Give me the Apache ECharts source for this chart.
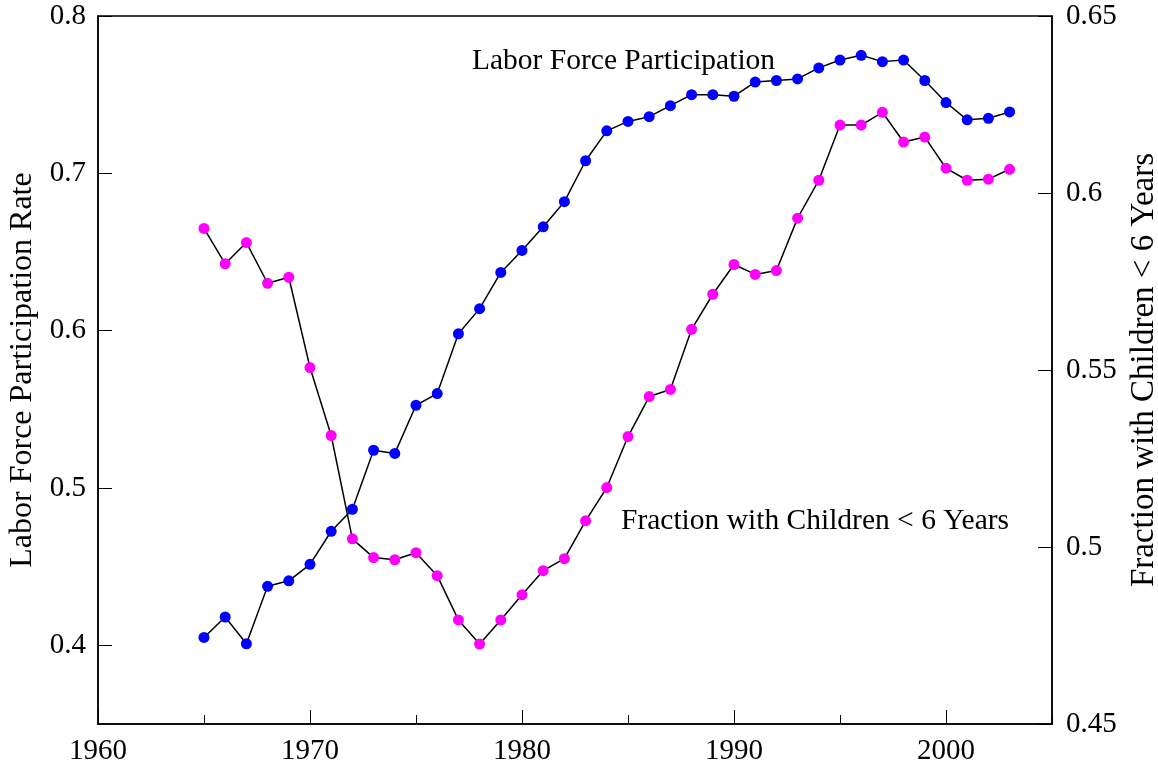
<!DOCTYPE html>
<html>
<head>
<meta charset="utf-8">
<script src="https://cdn.jsdelivr.net/npm/echarts@6/dist/echarts.min.js"></script>
<style>html,body{margin:0;padding:0;background:#fff}#c{width:1158px;height:773px}</style>
</head>
<body>
<div id="c"></div>
<script>
const years = [1965,1966,1967,1968,1969,1970,1971,1972,1973,1974,1975,1976,1977,1978,1979,1980,1981,1982,1983,1984,1985,1986,1987,1988,1989,1990,1991,1992,1993,1994,1995,1996,1997,1998,1999,2000,2001,2002,2003];
const laborForce = [0.405,0.418,0.401,0.4375,0.441,0.4515,0.4725,0.4865,0.524,0.522,0.5526,0.560,0.598,0.614,0.637,0.651,0.666,0.682,0.708,0.727,0.733,0.736,0.743,0.750,0.750,0.749,0.758,0.759,0.760,0.767,0.772,0.775,0.771,0.772,0.759,0.745,0.734,0.735,0.739];
const fracChildren = [0.590,0.580,0.586,0.5745,0.5762,0.5507,0.5315,0.5023,0.497,0.4964,0.4984,0.4919,0.4794,0.4726,0.4794,0.4865,0.4933,0.4967,0.5074,0.5168,0.5312,0.5425,0.5445,0.5615,0.5714,0.5798,0.577,0.5781,0.5929,0.6036,0.6192,0.6192,0.6228,0.6144,0.6158,0.6070,0.6036,0.6039,0.6067];
const xMajorTicks = [1960,1970,1980,1990,2000];
const xMinorTicks = [1965,1975,1985,1995,2005];
const leftTicks = [0.4,0.5,0.6,0.7,0.8];
const rightTicks = [0.45,0.5,0.55,0.6,0.65];

const font = 'Liberation Serif, serif';
const chart = echarts.init(document.getElementById('c'));
const pair = (ys) => years.map((y,i)=>[y, ys[i]]);
const txt = (size) => ({color:'#000',fontFamily:font,fontSize:size});
chart.setOption({
  animation:false,
  textStyle:{fontFamily:font},
  grid:{left:98,right:106,top:16,bottom:49,outerBoundsMode:'none',containLabel:false,show:true,borderColor:'#000',borderWidth:1.5,backgroundColor:'transparent'},
  xAxis:[{
    type:'value',min:1960,max:2005,
    axisLine:{show:true,lineStyle:{color:'#000',width:1.5}},
    axisTick:{show:true,inside:true,length:14,customValues:xMajorTicks,lineStyle:{color:'#000',width:1}},
    axisLabel:Object.assign(txt(29),{customValues:xMajorTicks,margin:13,formatter:v=>String(v)}),
    splitLine:{show:false}
  },{
    type:'value',min:1960,max:2005,position:'bottom',
    axisLine:{show:false},
    axisTick:{show:true,inside:true,length:9,customValues:xMinorTicks,lineStyle:{color:'#000',width:1}},
    axisLabel:{show:false},splitLine:{show:false}
  }],
  yAxis:[{
    type:'value',min:0.35,max:0.8,position:'left',
    name:'Labor Force Participation Rate',nameLocation:'middle',nameRotate:90,nameGap:57,
    nameTextStyle:txt(32),
    axisLine:{show:true,lineStyle:{color:'#000',width:1.5}},
    axisTick:{show:true,inside:true,length:14,customValues:leftTicks,lineStyle:{color:'#000',width:1}},
    axisLabel:Object.assign(txt(29),{customValues:leftTicks,margin:12,formatter:v=>String(+v.toFixed(2))}),
    splitLine:{show:false}
  },{
    type:'value',min:0.45,max:0.65,position:'right',
    name:'Fraction with Children < 6 Years',nameLocation:'middle',nameRotate:90,nameGap:70,
    nameTextStyle:txt(33),
    axisLine:{show:true,lineStyle:{color:'#000',width:1.5}},
    axisTick:{show:true,inside:true,length:14,customValues:rightTicks,lineStyle:{color:'#000',width:1}},
    axisLabel:Object.assign(txt(29),{customValues:rightTicks,margin:14,formatter:v=>String(+v.toFixed(2))}),
    splitLine:{show:false}
  }],
  graphic:[
    {type:'text',left:472,top:46,style:{text:'Labor Force Participation',font:'29.5px '+font,fill:'#000'}},
    {type:'text',left:621,top:506,style:{text:'Fraction with Children < 6 Years',font:'29.5px '+font,fill:'#000'}}
  ],
  series:[{
    type:'line',xAxisIndex:0,yAxisIndex:0,data:pair(laborForce),
    symbol:'circle',symbolSize:11,
    lineStyle:{color:'#000',width:1.5},itemStyle:{color:'#0000ff'},z:3
  },{
    type:'line',xAxisIndex:0,yAxisIndex:1,data:pair(fracChildren),
    symbol:'circle',symbolSize:11,
    lineStyle:{color:'#000',width:1.5},itemStyle:{color:'#ff00ff'},z:3
  }]
});
</script>
</body>
</html>
